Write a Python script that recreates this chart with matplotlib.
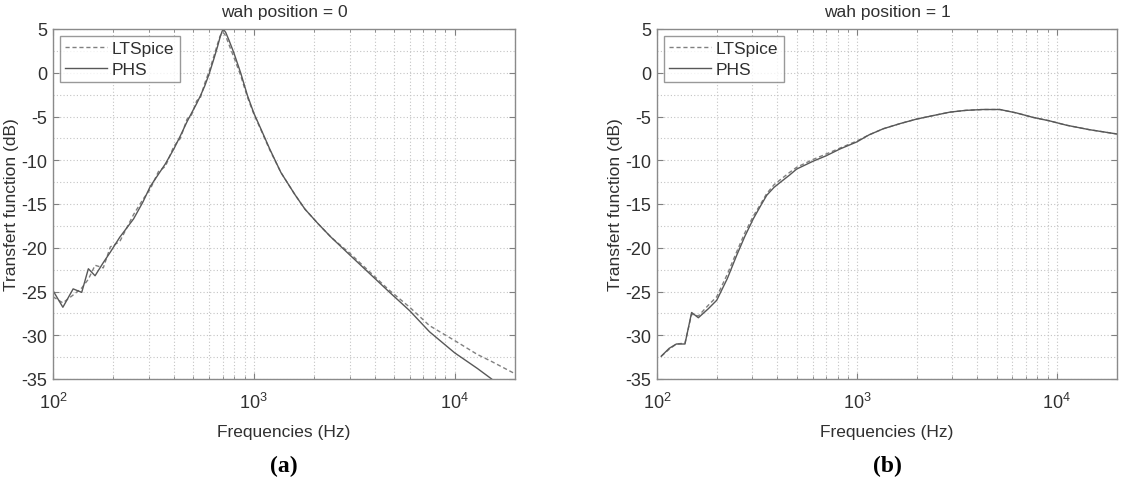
import matplotlib
matplotlib.use("Agg")
import matplotlib.pyplot as plt
import matplotlib.ticker as mticker

plt.rcParams['font.family'] = ['Liberation Sans', 'DejaVu Sans']
plt.rcParams['axes.unicode_minus'] = False

# (a) wah position = 0
freq_a = [100, 112, 126, 139, 150, 162, 178, 193, 215, 252, 280, 305, 335, 363, 400,
          431, 465, 490, 520, 543, 570, 600, 633, 660, 680, 697, 710, 725, 750, 795,
          860, 930, 1000, 1084, 1200, 1365, 1600, 1800, 2100, 2427, 3000, 3560, 4700,
          5980, 7500, 10000, 13000, 15300, 20000]
phs_a = [-24.9, -26.8, -24.7, -25.1, -22.4, -23.2, -21.7, -20.5, -18.8, -16.7, -14.8,
         -13.0, -11.6, -10.4, -8.7, -7.2, -5.6, -4.6, -3.5, -2.6, -1.5, -0.1, 1.6,
         3.0, 4.1, 4.8, 4.9, 4.6, 3.8, 2.3, 0.0, -2.6, -4.6, -6.4, -8.7, -11.4, -13.9,
         -15.6, -17.3, -18.8, -20.8, -22.4, -25.0, -27.2, -29.6, -32.0, -33.8, -35.0, -37.5]
lts_a = [-25.6, -26.3, -25.4, -24.6, -23.6, -22.0, -22.3, -19.9, -19.3, -16.2, -14.5,
         -13.3, -11.3, -10.7, -8.4, -7.5, -5.3, -4.8, -3.2, -2.8, -1.2, 0.2, 1.9,
         3.3, 4.2, 4.6, 4.5, 4.2, 3.3, 1.8, -0.3, -2.8, -4.7, -6.5, -8.8, -11.4, -13.9,
         -15.6, -17.3, -18.8, -20.6, -22.2, -24.8, -26.8, -28.9, -30.6, -32.2, -33.0, -34.4]

# (b) wah position = 1
freq_b = [105, 115, 125, 138, 149, 161, 180, 199, 225, 250, 275, 303, 330, 354, 385,
          415, 460, 500, 605, 700, 825, 1000, 1150, 1355, 1650, 1985, 2400, 2920,
          3500, 4270, 5190, 6300, 7600, 9200, 11200, 14500, 20000]
phs_b = [-32.4, -31.5, -31.0, -31.0, -27.4, -28.0, -27.0, -26.0, -23.5, -20.9, -18.7,
         -16.7, -15.2, -14.0, -13.1, -12.5, -11.7, -11.0, -10.1, -9.5, -8.7, -7.9,
         -7.1, -6.4, -5.8, -5.3, -4.9, -4.5, -4.3, -4.2, -4.2, -4.6, -5.1, -5.5, -6.0,
         -6.5, -7.0]
lts_b = [-32.4, -31.6, -31.0, -30.9, -27.6, -27.8, -26.6, -25.6, -23.0, -20.5, -18.3,
         -16.4, -15.0, -13.8, -12.8, -12.2, -11.4, -10.8, -9.9, -9.3, -8.6, -7.8,
         -7.1, -6.4, -5.8, -5.3, -4.9, -4.5, -4.3, -4.2, -4.2, -4.6, -5.1, -5.5, -6.0,
         -6.5, -7.0]

yticks = [5, 0, -5, -10, -15, -20, -25, -30, -35]

FS = 12.5
W, H = 1126, 481
fig = plt.figure(figsize=(W / 100, H / 100), dpi=100)

panels = [
    (53, 515, freq_a, lts_a, phs_a, 'wah position = 0', '(a)'),
    (657, 1117, freq_b, lts_b, phs_b, 'wah position = 1', '(b)'),
]
top, bottom = 30, 380

for x0, x1, f, lts, phs, title, tag in panels:
    ax = fig.add_axes([x0 / W, 1 - bottom / H, (x1 - x0) / W, (bottom - top) / H])
    ax.semilogx(f, lts, color='#808080', ls=(0, (3, 2)), lw=1.0, label='LTSpice')
    ax.semilogx(f, phs, color='#585858', ls='-', lw=1.0, label='PHS')
    ax.set_xlim(100, 20000)
    ax.set_ylim(-35, 5)
    ax.set_yticks(yticks)
    ax.yaxis.set_minor_locator(mticker.MultipleLocator(2.5))
    ax.xaxis.set_major_locator(mticker.LogLocator(base=10))
    ax.xaxis.set_minor_locator(mticker.LogLocator(base=10, subs=range(2, 10)))
    ax.xaxis.set_minor_formatter(mticker.NullFormatter())
    ax.grid(True, which='both', color='#c4c4c4', ls=(0, (1, 2)), lw=0.8)
    ax.tick_params(which='both', direction='in', top=True, right=True,
                   colors='#808080', labelcolor='#303030', labelsize=13)
    ax.tick_params(which='major', length=4)
    ax.tick_params(which='minor', length=2)
    ax.tick_params(axis='y', which='minor', length=0)
    ax.tick_params(axis='x', which='major', pad=9)
    ax.tick_params(axis='y', which='major', pad=4)
    for sp in ax.spines.values():
        sp.set_color('#8a8a8a')
        sp.set_linewidth(1.0)
    ax.set_title(title, fontsize=FS, color='#303030', pad=9)
    ax.set_xlabel('Frequencies (Hz)', fontsize=FS, color='#303030', labelpad=9)
    ax.set_ylabel('Transfert function (dB)', fontsize=FS, color='#303030', labelpad=2)
    leg = ax.legend(loc='upper left', fontsize=FS, frameon=True, fancybox=False,
                    handlelength=2.4, borderaxespad=0.4, labelspacing=0.3,
                    handletextpad=0.3, borderpad=0.3)
    leg.get_frame().set_edgecolor('#808080')
    leg.get_frame().set_linewidth(1.0)
    for t in leg.get_texts():
        t.set_color('#303030')
    fig.text((x0 + x1) / 2 / W, 1 - 466 / H, tag, ha='center', va='center',
             fontsize=17, fontweight='bold', family='Liberation Serif')

fig.savefig('out.png', dpi=100)
